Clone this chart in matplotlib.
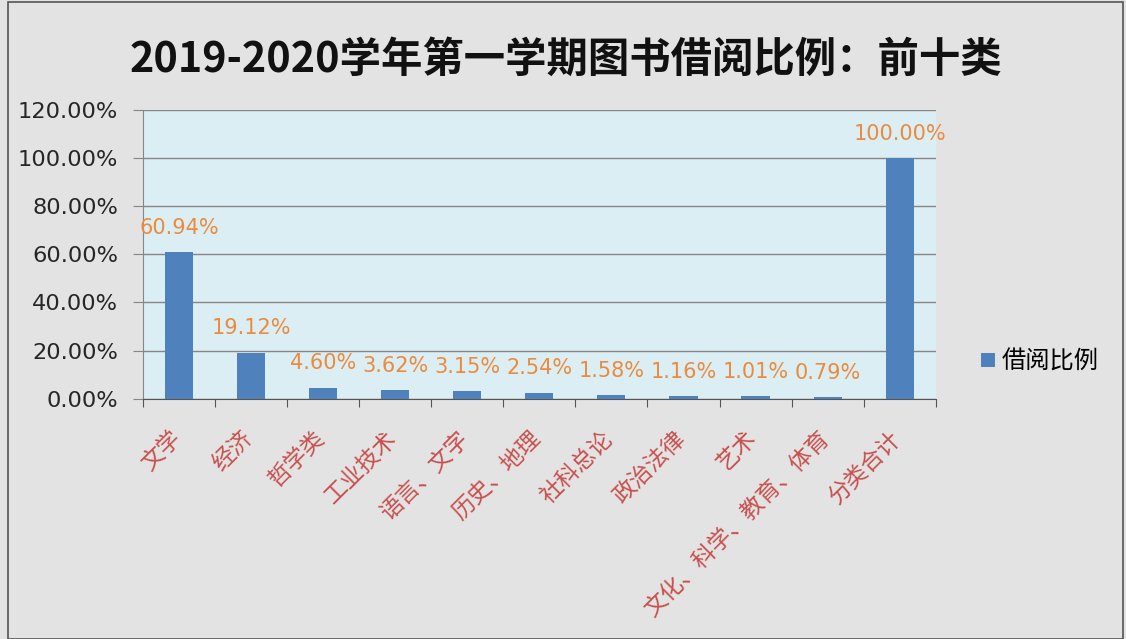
import matplotlib
matplotlib.use("Agg")
import matplotlib.pyplot as plt
from matplotlib.patches import Rectangle
from matplotlib.ticker import FuncFormatter, FixedLocator

plt.rcParams['font.family'] = ['Noto Sans CJK SC', 'DejaVu Sans']

categories = ["文学", "经济", "哲学类", "工业技术", "语言、文字", "历史、地理",
              "社科总论", "政治法律", "艺术", "文化、科学、教育、体育", "分类合计"]
values = [60.94, 19.12, 4.60, 3.62, 3.15, 2.54, 1.58, 1.16, 1.01, 0.79, 100.00]
title = "2019-2020学年第一学期图书借阅比例：前十类"
series_name = "借阅比例"
yticks = [0, 20, 40, 60, 80, 100, 120]

NUM_FONT = ['DejaVu Sans', 'Noto Sans CJK SC']

fig = plt.figure(figsize=(11.26, 6.39), dpi=100)
fig.patch.set_facecolor("#e3e3e3")
fig.patches.append(Rectangle((0.007, 0.0), 0.99, 0.997, transform=fig.transFigure,
                             fill=False, edgecolor="#555555", linewidth=1.2))

ax = fig.add_axes([0.127, 0.376, 0.704, 0.452])
ax.set_facecolor("#daeef3")
x = list(range(len(categories)))
bars = ax.bar(x, values, width=0.39, color="#4f81bd", zorder=3, label=series_name)

ax.set_xlim(-0.5, len(categories) - 0.5)
ax.set_ylim(0, 120)
ax.yaxis.set_major_locator(FixedLocator(yticks))
ax.yaxis.set_major_formatter(FuncFormatter(lambda v, p: f"{v:.2f}%"))
ax.grid(axis="y", color="#868686", linewidth=1.0, zorder=1)
ax.tick_params(axis="y", length=7, color="#868686", labelcolor="#262626", pad=11)
for lab in ax.get_yticklabels():
    lab.set_fontfamily(NUM_FONT)
    lab.set_fontsize(16.2)

# x ticks at category boundaries
ax.xaxis.set_major_locator(FixedLocator([i - 0.5 for i in range(len(categories) + 1)]))
ax.xaxis.set_major_formatter(FuncFormatter(lambda v, p: ""))
ax.tick_params(axis="x", length=6, color="#555555")
for i, c in enumerate(categories):
    ax.annotate(c, xy=(i, 0), xycoords=("data", "axes fraction"),
                xytext=(-1.5, -26), textcoords="offset points",
                rotation=45, rotation_mode="anchor", ha="right", va="center",
                fontsize=16.5, color="#c8504d")

for s in ["top", "right"]:
    ax.spines[s].set_visible(False)
ax.spines["left"].set_color("#868686")
ax.spines["bottom"].set_color("#555555")

for i, v in enumerate(values):
    ax.annotate(f"{v:.2f}%", xy=(i, v), xytext=(0, 17.5), textcoords="offset points",
                ha="center", va="center", fontsize=15, color="#ec8a3e", zorder=4,
                family=NUM_FONT)

fig.text(0.503, 0.907, title, ha="center", va="center", fontsize=29.8, fontweight="bold", color="#111111")

leg = fig.legend(handles=[bars], labels=[series_name], loc="center left",
                 bbox_to_anchor=(0.852, 0.434), frameon=False, fontsize=17.5,
                 handlelength=0.55, handleheight=0.55, handletextpad=0.3)

fig.savefig("out.png", dpi=100, facecolor=fig.get_facecolor())
